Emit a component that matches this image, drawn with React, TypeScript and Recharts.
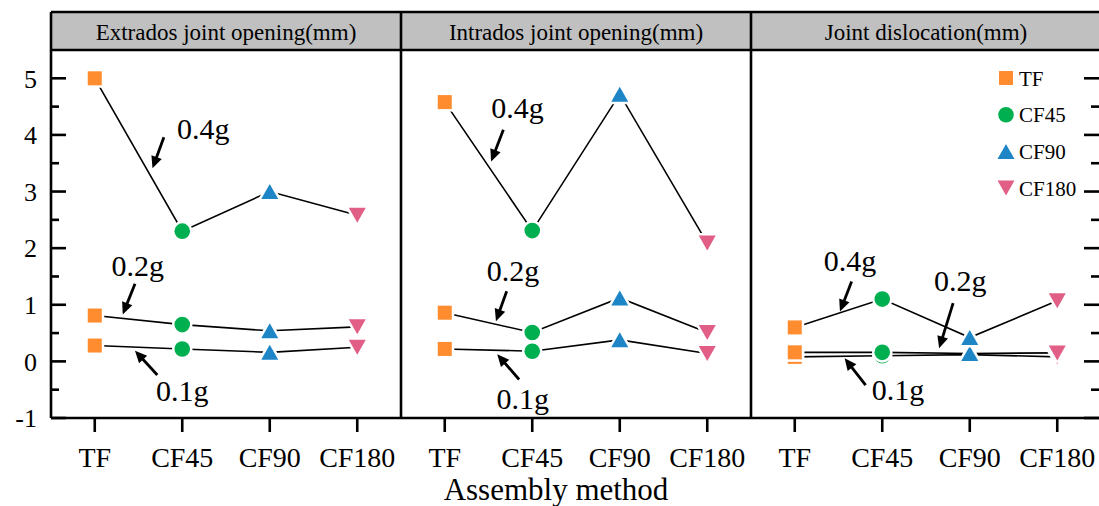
import React from 'react';
import { LineChart, Line, XAxis, YAxis, ReferenceLine, ReferenceDot } from 'recharts';

const categories = ['TF', 'CF45', 'CF90', 'CF180'];
const panelTitles = ['Extrados joint opening(mm)', 'Intrados joint opening(mm)', 'Joint dislocation(mm)'];

// values, one array per acceleration level
const extrados01 = [0.28, 0.22, 0.16, 0.25];
const extrados02 = [0.81, 0.65, 0.54, 0.61];
const extrados04 = [5.0, 2.3, 3.0, 2.58];

const intrados01 = [0.22, 0.18, 0.38, 0.14];
const intrados02 = [0.86, 0.51, 1.12, 0.51];
const intrados04 = [4.58, 2.31, 4.72, 2.09];

const dislocation01 = [0.08, 0.1, 0.12, 0.08];
const dislocation02 = [0.16, 0.16, 0.14, 0.15];
const dislocation04 = [0.6, 1.1, 0.42, 1.07];

const yTicks = [-1, -0.5, 0, 0.5, 1, 1.5, 2, 2.5, 3, 3.5, 4, 4.5, 5];
const Y_DOMAIN = [-1, 5.5];

const FONT = '"Liberation Serif", "Times New Roman", serif';
const PLOT_TOP = 50;
const PLOT_BOTTOM = 418;
const colors: Record<string, string> = {
  TF: '#FF8C2E',
  CF45: '#00AF50',
  CF90: '#1E86C6',
  CF180: '#E15F86',
};

const buildRows = (g01: number[], g02: number[], g04: number[]) =>
  categories.map((cat, i) => ({ i, cat, g01: g01[i], g02: g02[i], g04: g04[i] }));

const panels = [
  {
    rows: buildRows(extrados01, extrados02, extrados04),
    notes: [
      { text: '0.4g', at: [1.24, 4.12], from: [0.79, 3.96], to: [0.66, 3.41] },
      { text: '0.2g', at: [0.49, 1.7], from: [0.46, 1.37], to: [0.32, 0.83] },
      { text: '0.1g', at: [1.0, -0.52], from: [0.715, -0.24], to: [0.46, 0.19] },
    ],
  },
  {
    rows: buildRows(intrados01, intrados02, intrados04),
    notes: [
      { text: '0.4g', at: [0.83, 4.49], from: [0.67, 4.09], to: [0.53, 3.53] },
      { text: '0.2g', at: [0.78, 1.6], from: [0.708, 1.24], to: [0.585, 0.71] },
      { text: '0.1g', at: [0.89, -0.66], from: [0.85, -0.32], to: [0.6, 0.125] },
    ],
  },
  {
    rows: buildRows(dislocation01, dislocation02, dislocation04),
    notes: [
      { text: '0.4g', at: [0.63, 1.79], from: [0.65, 1.41], to: [0.517, 0.88] },
      { text: '0.2g', at: [1.89, 1.42], from: [1.81, 1.03], to: [1.65, 0.23] },
      { text: '0.1g', at: [1.18, -0.5], from: [0.81, -0.42], to: [0.57, 0.055] },
    ],
  },
];

const MarkerShape = ({ cx, cy, cat }: { cx: number; cy: number; cat: string }) => {
  const fill = colors[cat];
  if (cat === 'TF') {
    const s = 14;
    return (
      <g>
        <rect x={cx - s / 2} y={cy - s / 2} width={s} height={s} fill="#fff" stroke="#fff" strokeWidth={5} />
        <rect x={cx - s / 2} y={cy - s / 2} width={s} height={s} fill={fill} />
      </g>
    );
  }
  if (cat === 'CF45') {
    return (
      <g>
        <circle cx={cx} cy={cy} r={7.8} fill="#fff" stroke="#fff" strokeWidth={5} />
        <circle cx={cx} cy={cy} r={7.8} fill={fill} />
      </g>
    );
  }
  const w = 17;
  const h = 15;
  const pts =
    cat === 'CF90'
      ? `${cx},${cy - h / 2} ${cx + w / 2},${cy + h / 2} ${cx - w / 2},${cy + h / 2}`
      : `${cx},${cy + h / 2} ${cx + w / 2},${cy - h / 2} ${cx - w / 2},${cy - h / 2}`;
  return (
    <g>
      <polygon points={pts} fill="#fff" stroke="#fff" strokeWidth={5} strokeLinejoin="round" />
      <polygon points={pts} fill={fill} />
    </g>
  );
};

const renderDot = (props: any) => (
  <MarkerShape key={`d-${props.index}`} cx={props.cx} cy={props.cy} cat={props.payload.cat} />
);

const arrowShape = (p: any) => {
  const { x1, y1, x2, y2 } = p;
  const dx = x2 - x1;
  const dy = y2 - y1;
  const len = Math.hypot(dx, dy) || 1;
  const ux = dx / len;
  const uy = dy / len;
  const hl = 12;
  const hw = 5.5;
  const bx = x2 - ux * hl;
  const by = y2 - uy * hl;
  return (
    <g>
      <line x1={x1} y1={y1} x2={bx + ux * 2} y2={by + uy * 2} stroke="#000" strokeWidth={2.8} />
      <polygon points={`${x2},${y2} ${bx - uy * hw},${by + ux * hw} ${bx + uy * hw},${by - ux * hw}`} fill="#000" />
    </g>
  );
};

const noteText = (text: string) => (p: any) => (
  <text x={p.cx} y={p.cy} textAnchor="middle" dominantBaseline="central" fontFamily={FONT} fontSize={30} fill="#000">
    {text}
  </text>
);

// left panel: inward ticks + labels
const leftTick = (props: any) => {
  const { x, y, payload } = props;
  const v = payload.value;
  const major = Number.isInteger(v);
  const ax = x + 14;
  return (
    <g>
      <line x1={ax} y1={y} x2={ax + (major ? 15 : 8)} y2={y} stroke="#000" strokeWidth={2.6} />
      {major && (
        <text x={x} y={y} dy="0.355em" textAnchor="end" fontFamily={FONT} fontSize={26} fill="#000">
          {v}
        </text>
      )}
    </g>
  );
};

const Panel = ({ index }: { index: number }) => {
  const { rows, notes } = panels[index];
  const first = index === 0;
  return (
    <LineChart
      width={first ? 401 : 350}
      height={506}
      data={rows}
      margin={{ top: PLOT_TOP, right: 0, left: 0, bottom: 28 }}
      style={{ position: 'absolute', left: first ? 0 : 401 + (index - 1) * 350, top: 0 }}
    >
      <XAxis
        type="number"
        dataKey="i"
        domain={[-0.5, 3.5]}
        ticks={[0, 1, 2, 3]}
        tickFormatter={(v: number) => categories[v]}
        axisLine={false}
        tickSize={14}
        tickMargin={15}
        height={60}
        interval={0}
        tickLine={{ stroke: '#000', strokeWidth: 2.6 }}
        tick={{ fill: '#000', fontSize: 28, fontFamily: FONT }}
        allowDataOverflow
      />
      <YAxis
        type="number"
        domain={Y_DOMAIN}
        ticks={yTicks}
        interval={0}
        hide={!first}
        width={51}
        axisLine={false}
        tickLine={false}
        tickSize={0}
        tickMargin={14}
        tick={leftTick}
        allowDataOverflow
      />
      {['g01', 'g02', 'g04'].map((k) => (
        <Line
          key={k}
          dataKey={k}
          stroke="#000"
          strokeWidth={1.6}
          dot={renderDot}
          activeDot={false}
          isAnimationActive={false}
        />
      ))}
      {notes.map((n) => (
        <ReferenceLine
          key={`a-${n.text}`}
          segment={[
            { x: n.from[0], y: n.from[1] },
            { x: n.to[0], y: n.to[1] },
          ]}
          shape={arrowShape}
        />
      ))}
      {notes.map((n) => (
        <ReferenceDot key={`t-${n.text}`} x={n.at[0]} y={n.at[1]} r={0} shape={noteText(n.text)} />
      ))}
    </LineChart>
  );
};

// same linear mapping as the panels' y axis, for the mirrored ticks on the frame's right edge
const frameY = (v: number) =>
  PLOT_BOTTOM - ((v - Y_DOMAIN[0]) / (Y_DOMAIN[1] - Y_DOMAIN[0])) * (PLOT_BOTTOM - PLOT_TOP);

const Frame = () => (
  <svg width={1099} height={506} style={{ position: 'absolute', left: 0, top: 0, pointerEvents: 'none' }}>
    <rect x={51} y={12} width={1060} height={38} fill="#C0C0C0" />
    <g stroke="#000" strokeWidth={2.6}>
      <line x1={51} y1={12} x2={1101} y2={12} />
      <line x1={51} y1={50} x2={1101} y2={50} />
      <line x1={51} y1={418} x2={1101} y2={418} />
      <line x1={51} y1={12} x2={51} y2={418} />
      <line x1={401} y1={12} x2={401} y2={418} />
      <line x1={751} y1={12} x2={751} y2={418} />
      {yTicks.map((v) => (
        <line key={v} x1={Number.isInteger(v) ? 1084 : 1091} y1={frameY(v)} x2={1099} y2={frameY(v)} />
      ))}
    </g>
    {panelTitles.map((t, k) => (
      <text key={t} x={226 + k * 350} y={40} textAnchor="middle" fontFamily={FONT} fontSize={23} fill="#000">
        {t}
      </text>
    ))}
    <text x={556} y={500} textAnchor="middle" fontFamily={FONT} fontSize={31} fill="#000">
      Assembly method
    </text>
    {/* legend of the assembly methods */}
    {categories.map((cat, k) => (
      <g key={cat}>
        <MarkerShape cx={1006} cy={78 + k * 36.7} cat={cat} />
        <text x={1019} y={78 + k * 36.7} dy="0.36em" fontFamily={FONT} fontSize={21} fill="#000">
          {cat}
        </text>
      </g>
    ))}
  </svg>
);

export default function App() {
  return (
    <div
      style={{
        position: 'absolute',
        left: 0,
        top: 0,
        width: 1099,
        height: 506,
        overflow: 'hidden',
      }}
    >
      <Panel index={0} />
      <Panel index={1} />
      <Panel index={2} />
      <Frame />
    </div>
  );
}
